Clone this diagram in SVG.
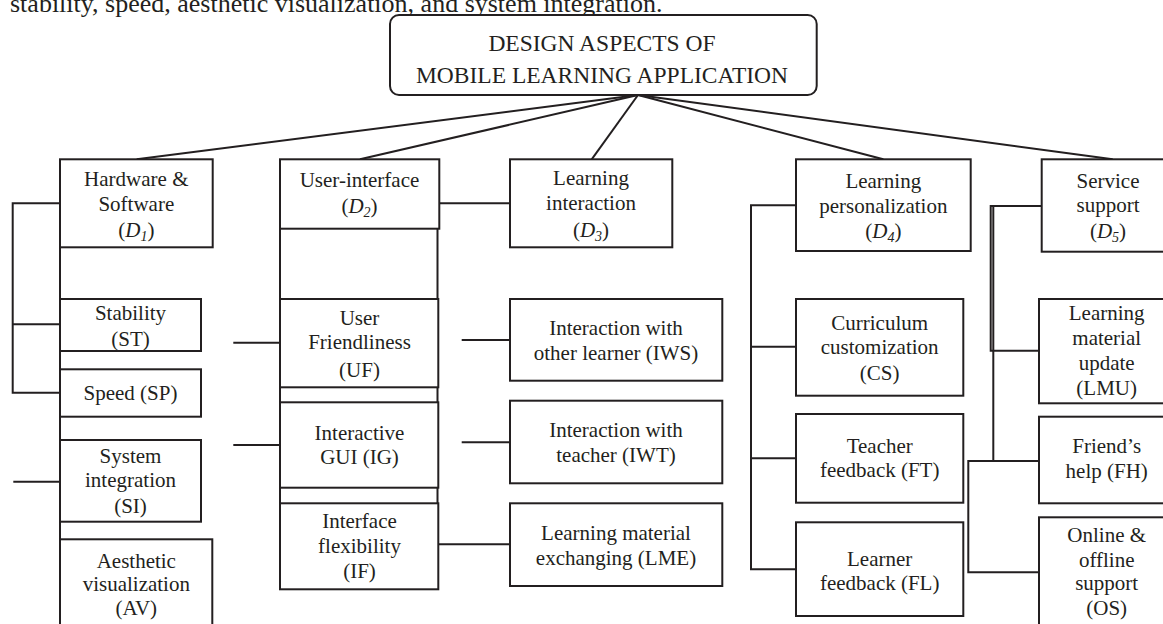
<svg xmlns="http://www.w3.org/2000/svg" width="1163" height="624" viewBox="0 0 1163 624">
<style>
.box{fill:#fff;stroke:#231f20;stroke-width:2}
.ln{fill:none;stroke:#231f20;stroke-width:2}
text{font-family:"Liberation Serif","Times New Roman",serif;font-size:21px;fill:#231f20;text-anchor:middle}
.it{font-style:italic}
.sub{font-size:14px;font-style:italic}
.rt{font-size:23.5px}
</style>
<rect width="1163" height="624" fill="#fff"/>
<text x="10" y="12" style="text-anchor:start;font-size:26px">stability, speed, aesthetic visualization, and system integration.</text>
<g id="connectors">
<line class="ln" x1="638" y1="95" x2="136.7" y2="159.3"/>
<line class="ln" x1="638" y1="95" x2="360" y2="159.3"/>
<line class="ln" x1="638" y1="95" x2="591.7" y2="159.3"/>
<line class="ln" x1="638" y1="95" x2="883.3" y2="159.3"/>
<line class="ln" x1="638" y1="95" x2="1112.7" y2="159.3"/>
<line class="ln" x1="60" y1="247.3" x2="60" y2="539.3"/>
<polyline class="ln" points="60,203.3 12.7,203.3 12.7,392.7 60,392.7"/>
<line class="ln" x1="12.7" y1="324.3" x2="60" y2="324.3"/>
<line class="ln" x1="13.3" y1="481.7" x2="60" y2="481.7"/>
<line class="ln" x1="280" y1="228.7" x2="280" y2="503.3"/>
<line class="ln" x1="233.3" y1="342.7" x2="280" y2="342.7"/>
<line class="ln" x1="233.3" y1="445" x2="280" y2="445"/>
<line class="ln" x1="437.5" y1="203.3" x2="437.5" y2="544.3"/>
<line class="ln" x1="439" y1="203.3" x2="510" y2="203.3"/>
<line class="ln" x1="437.5" y1="544.3" x2="510" y2="544.3"/>
<line class="ln" x1="461.7" y1="340" x2="510" y2="340"/>
<line class="ln" x1="461.7" y1="442.3" x2="510" y2="442.3"/>
<polyline class="ln" points="796,205.3 751,205.3 751,569.3 796,569.3"/>
<line class="ln" x1="751" y1="346.7" x2="796" y2="346.7"/>
<line class="ln" x1="751" y1="458.3" x2="796" y2="458.3"/>
<polyline class="ln" points="1041.7,206 990.7,206 990.7,350.7 1039,350.7"/>
<line class="ln" x1="993.3" y1="206" x2="993.3" y2="461"/>
<polyline class="ln" points="1039,461 968.3,461 968.3,572.3 1039,572.3"/>
</g>
<g id="root">
<rect class="box" x="390" y="15" width="426.7" height="80" rx="9"/>
<text class="rt" x="602" y="51">DESIGN ASPECTS OF</text>
<text class="rt" x="602" y="83">MOBILE LEARNING APPLICATION</text>
</g>
<g id="d1">
<rect class="box" x="60" y="159.3" width="152.7" height="88"/>
<text x="136.3" y="186">Hardware &amp;</text>
<text x="136.3" y="211">Software</text>
<text x="136.3" y="236.7">(<tspan class="it">D</tspan><tspan class="sub" dy="4">1</tspan><tspan dy="-4">)</tspan></text>
</g>
<g id="st">
<rect class="box" x="60" y="299" width="141" height="52"/>
<text x="130.5" y="320">Stability</text>
<text x="130.5" y="345.7">(ST)</text>
</g>
<g id="sp">
<rect class="box" x="60" y="369.3" width="141" height="47.4"/>
<text x="130.5" y="400">Speed (SP)</text>
</g>
<g id="si">
<rect class="box" x="60" y="440" width="141" height="81.7"/>
<text x="130.5" y="463.3">System</text>
<text x="130.5" y="487">integration</text>
<text x="130.5" y="512.7">(SI)</text>
</g>
<g id="av">
<rect class="box" x="60" y="539.3" width="152.3" height="100"/>
<text x="136.3" y="568.3">Aesthetic</text>
<text x="136.3" y="591">visualization</text>
<text x="136.3" y="615">(AV)</text>
</g>
<g id="d2">
<rect class="box" x="280" y="159.3" width="159.3" height="69.4"/>
<text x="359.5" y="187.3">User-interface</text>
<text x="359.5" y="213.3">(<tspan class="it">D</tspan><tspan class="sub" dy="4">2</tspan><tspan dy="-4">)</tspan></text>
</g>
<g id="uf">
<rect class="box" x="280" y="299" width="158.3" height="88.3"/>
<text x="359.5" y="325">User</text>
<text x="359.5" y="349">Friendliness</text>
<text x="359.5" y="376.7">(UF)</text>
</g>
<g id="ig">
<rect class="box" x="280" y="402.3" width="158.3" height="85.4"/>
<text x="359.5" y="440">Interactive</text>
<text x="359.5" y="464">GUI (IG)</text>
</g>
<g id="if">
<rect class="box" x="280" y="503.3" width="158.3" height="86"/>
<text x="359.5" y="528.3">Interface</text>
<text x="359.5" y="552.7">flexibility</text>
<text x="359.5" y="578.3">(IF)</text>
</g>
<g id="d3">
<rect class="box" x="510" y="159.3" width="162.3" height="88"/>
<text x="591" y="185">Learning</text>
<text x="591" y="210">interaction</text>
<text x="591" y="236.7">(<tspan class="it">D</tspan><tspan class="sub" dy="4">3</tspan><tspan dy="-4">)</tspan></text>
</g>
<g id="iws">
<rect class="box" x="510" y="299" width="212.3" height="81.7"/>
<text x="616" y="335">Interaction with</text>
<text x="616" y="360">other learner (IWS)</text>
</g>
<g id="iwt">
<rect class="box" x="510" y="400.7" width="212.3" height="82.6"/>
<text x="616" y="436.7">Interaction with</text>
<text x="616" y="461.7">teacher (IWT)</text>
</g>
<g id="lme">
<rect class="box" x="510" y="503.3" width="212.3" height="82.7"/>
<text x="616" y="540">Learning material</text>
<text x="616" y="565">exchanging (LME)</text>
</g>
<g id="d4">
<rect class="box" x="796" y="159.3" width="174.7" height="91.7"/>
<text x="883.3" y="188.3">Learning</text>
<text x="883.3" y="213.3">personalization</text>
<text x="883.3" y="238.3">(<tspan class="it">D</tspan><tspan class="sub" dy="4">4</tspan><tspan dy="-4">)</tspan></text>
</g>
<g id="cs">
<rect class="box" x="796" y="299" width="167.3" height="96.7"/>
<text x="879.7" y="330">Curriculum</text>
<text x="879.7" y="354">customization</text>
<text x="879.7" y="380">(CS)</text>
</g>
<g id="ft">
<rect class="box" x="796" y="414" width="167.3" height="88.7"/>
<text x="879.7" y="452.7">Teacher</text>
<text x="879.7" y="476.7">feedback (FT)</text>
</g>
<g id="fl">
<rect class="box" x="796" y="522.3" width="167.3" height="93.7"/>
<text x="879.7" y="566">Learner</text>
<text x="879.7" y="590">feedback (FL)</text>
</g>
<g id="d5">
<rect class="box" x="1041.7" y="159.3" width="135" height="92.4"/>
<text x="1108" y="188.3">Service</text>
<text x="1108" y="211.7">support</text>
<text x="1108" y="238.3">(<tspan class="it">D</tspan><tspan class="sub" dy="4">5</tspan><tspan dy="-4">)</tspan></text>
</g>
<g id="lmu">
<rect class="box" x="1039" y="299" width="140" height="104.3"/>
<text x="1106.7" y="320">Learning</text>
<text x="1106.7" y="345">material</text>
<text x="1106.7" y="370">update</text>
<text x="1106.7" y="395">(LMU)</text>
</g>
<g id="fh">
<rect class="box" x="1039" y="416.7" width="140" height="86.6"/>
<text x="1106.7" y="453.3">Friend’s</text>
<text x="1106.7" y="478.3">help (FH)</text>
</g>
<g id="os">
<rect class="box" x="1039" y="517.3" width="140" height="120"/>
<text x="1106.7" y="541.7">Online &amp;</text>
<text x="1106.7" y="566.7">offline</text>
<text x="1106.7" y="590">support</text>
<text x="1106.7" y="615">(OS)</text>
</g>
</svg>
